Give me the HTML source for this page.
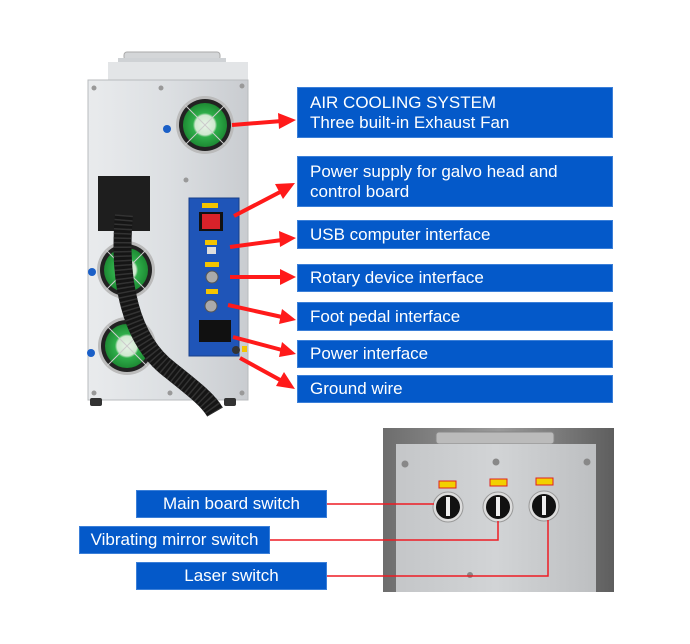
<!DOCTYPE html>
<html><head><meta charset="utf-8"><style>
html,body{margin:0;padding:0;background:#fff;}
body{width:690px;height:644px;position:relative;overflow:hidden;font-family:"Liberation Sans","DejaVu Sans",sans-serif;}
.b{position:absolute;background:#0459c9;color:#fff;font-size:17px;line-height:20px;box-sizing:border-box;border:1px solid #3b7fd8;}
.l{padding-left:12px;display:flex;flex-direction:column;justify-content:center;}
.c{text-align:center;display:flex;align-items:center;justify-content:center;}
svg{position:absolute;left:0;top:0;}
</style></head><body>
<svg width="690" height="644" viewBox="0 0 690 644">
<defs>
<linearGradient id="face" x1="0" x2="1"><stop offset="0" stop-color="#e9ebed"/><stop offset="0.5" stop-color="#dcdfe2"/><stop offset="1" stop-color="#c9ccd0"/></linearGradient>
<radialGradient id="fan"><stop offset="0" stop-color="#e8f3e8"/><stop offset="0.45" stop-color="#cfe8cf"/><stop offset="0.55" stop-color="#2fae4a"/><stop offset="1" stop-color="#1d8a33"/></radialGradient>
<linearGradient id="photo" x1="0" x2="1"><stop offset="0" stop-color="#6d6d6d"/><stop offset="0.5" stop-color="#9a9a9a"/><stop offset="1" stop-color="#5e5e5e"/></linearGradient>
<linearGradient id="box" x1="0" x2="1"><stop offset="0" stop-color="#c4c6c8"/><stop offset="0.5" stop-color="#d2d4d6"/><stop offset="1" stop-color="#bdbfc1"/></linearGradient>
</defs>
<rect x="124" y="52" width="96" height="8" rx="3" fill="#d4d6d8" stroke="#aaa"/>
<rect x="118" y="58" width="108" height="22" fill="#cfd2d5"/>
<rect x="108" y="62" width="140" height="20" fill="#e3e5e7"/>
<rect x="88" y="80" width="160" height="320" fill="url(#face)" stroke="#b8bbbe"/>
<rect x="90" y="398" width="12" height="8" rx="2" fill="#333"/>
<rect x="224" y="398" width="12" height="8" rx="2" fill="#333"/>
<g fill="#999"><circle cx="94" cy="88" r="2.5"/><circle cx="242" cy="86" r="2.5"/><circle cx="161" cy="88" r="2.5"/><circle cx="186" cy="180" r="2.5"/><circle cx="94" cy="393" r="2.5"/><circle cx="242" cy="393" r="2.5"/><circle cx="170" cy="393" r="2.5"/></g>
<g>
<circle cx="205" cy="125" r="29" fill="#bbb"/><circle cx="205" cy="125" r="26" fill="#222"/><circle cx="205" cy="125" r="22" fill="url(#fan)"/>
<line x1="185" y1="105" x2="225" y2="145" stroke="#ccc"/><line x1="225" y1="105" x2="185" y2="145" stroke="#ccc"/>
<circle cx="126" cy="270" r="29" fill="#bbb"/><circle cx="126" cy="270" r="26" fill="#222"/><circle cx="126" cy="270" r="22" fill="url(#fan)"/>
<line x1="106" y1="250" x2="146" y2="290" stroke="#ccc"/><line x1="146" y1="250" x2="106" y2="290" stroke="#ccc"/>
<circle cx="127" cy="346" r="29" fill="#bbb"/><circle cx="127" cy="346" r="26" fill="#222"/><circle cx="127" cy="346" r="22" fill="url(#fan)"/>
<line x1="107" y1="326" x2="147" y2="366" stroke="#ccc"/><line x1="147" y1="326" x2="107" y2="366" stroke="#ccc"/>
<circle cx="167" cy="129" r="4" fill="#1a5fc7"/><circle cx="92" cy="272" r="4" fill="#1a5fc7"/><circle cx="91" cy="353" r="4" fill="#1a5fc7"/>
</g>
<rect x="98" y="176" width="52" height="55" fill="#1e1e1e"/>
<path d="M124 215 C118 280 130 340 170 370 C195 390 208 400 215 412" stroke="#151515" stroke-width="18" fill="none"/>
<path d="M124 215 C118 280 130 340 170 370 C195 390 208 400 215 412" stroke="#333" stroke-width="18" stroke-dasharray="1.5 3" fill="none"/>
<rect x="189" y="198" width="50" height="158" fill="#1f55b8" stroke="#173f8a"/>
<rect x="202" y="203" width="16" height="5" fill="#f4c400"/>
<rect x="199" y="212" width="24" height="19" fill="#111"/><rect x="202" y="214" width="18" height="15" fill="#d9222a"/>
<rect x="205" y="240" width="12" height="5" fill="#f4c400"/><rect x="207" y="247" width="9" height="7" fill="#ddd"/>
<rect x="205" y="262" width="14" height="5" fill="#f4c400"/><circle cx="212" cy="277" r="6" fill="#aaa" stroke="#555"/>
<rect x="206" y="289" width="12" height="5" fill="#f4c400"/><circle cx="211" cy="306" r="6" fill="#aaa" stroke="#555"/>
<rect x="199" y="320" width="32" height="22" fill="#111"/>
<circle cx="236" cy="350" r="4" fill="#333"/><rect x="242" y="346" width="5" height="6" fill="#f4c400"/>
<g stroke="#ff1a1a" stroke-width="4" fill="#ff1a1a">
<line x1="232" y1="125" x2="282" y2="121"/><polygon points="296,120 278,113 279,129" stroke="none"/>
<line x1="234" y1="216" x2="282" y2="191"/><polygon points="295,183 275,184 283,199" stroke="none"/>
<line x1="230" y1="247" x2="282" y2="240"/><polygon points="296,238 279,231 280,247" stroke="none"/>
<line x1="230" y1="277" x2="282" y2="277"/><polygon points="296,277 280,269 280,285" stroke="none"/>
<line x1="228" y1="305" x2="282" y2="317"/><polygon points="296,320 282,309 279,324" stroke="none"/>
<line x1="233" y1="337" x2="282" y2="350"/><polygon points="296,354 282,342 279,357" stroke="none"/>
<line x1="240" y1="358" x2="282" y2="381"/><polygon points="295,389 284,372 276,386" stroke="none"/>
</g>
<rect x="383" y="428" width="231" height="164" fill="url(#photo)"/>
<rect x="436" y="432" width="118" height="12" rx="3" fill="#bbb" stroke="#888"/>
<rect x="396" y="444" width="200" height="148" fill="url(#box)"/>
<g fill="#888"><circle cx="405" cy="464" r="3.5"/><circle cx="496" cy="462" r="3.5"/><circle cx="587" cy="462" r="3.5"/><circle cx="470" cy="575" r="3"/></g>
<g fill="#f2d000" stroke="#e02020"><rect x="439" y="481" width="17" height="7"/><rect x="490" y="479" width="17" height="7"/><rect x="536" y="478" width="17" height="7"/></g>
<g><circle cx="448" cy="507" r="15" fill="#ddd" stroke="#999"/><circle cx="448" cy="507" r="12" fill="#111"/><rect x="446" y="497" width="4" height="19" fill="#eee"/>
<circle cx="498" cy="507" r="15" fill="#ddd" stroke="#999"/><circle cx="498" cy="507" r="12" fill="#111"/><rect x="496" y="497" width="4" height="19" fill="#eee"/>
<circle cx="544" cy="506" r="15" fill="#ddd" stroke="#999"/><circle cx="544" cy="506" r="12" fill="#111"/><rect x="542" y="496" width="4" height="19" fill="#eee"/></g>
<g stroke="#ee1c24" stroke-width="1.5" fill="none">
<polyline points="327,504 434,504"/>
<polyline points="270,540 498,540 498,521"/>
<polyline points="327,576 548,576 548,520"/>
</g>
</svg>
<div class="b l" style="left:297px;top:87px;width:316px;height:51px;">AIR COOLING SYSTEM<br>Three built-in Exhaust Fan</div>
<div class="b l" style="left:297px;top:156px;width:316px;height:51px;">Power supply for galvo head and<br>control board</div>
<div class="b l" style="left:297px;top:220px;width:316px;height:29px;">USB computer interface</div>
<div class="b l" style="left:297px;top:264px;width:316px;height:28px;">Rotary device interface</div>
<div class="b l" style="left:297px;top:302px;width:316px;height:29px;">Foot pedal interface</div>
<div class="b l" style="left:297px;top:340px;width:316px;height:28px;">Power interface</div>
<div class="b l" style="left:297px;top:375px;width:316px;height:28px;">Ground wire</div>
<div class="b c" style="left:136px;top:490px;width:191px;height:28px;">Main board switch</div>
<div class="b c" style="left:79px;top:526px;width:191px;height:28px;">Vibrating mirror switch</div>
<div class="b c" style="left:136px;top:562px;width:191px;height:28px;">Laser switch</div>
</body></html>
